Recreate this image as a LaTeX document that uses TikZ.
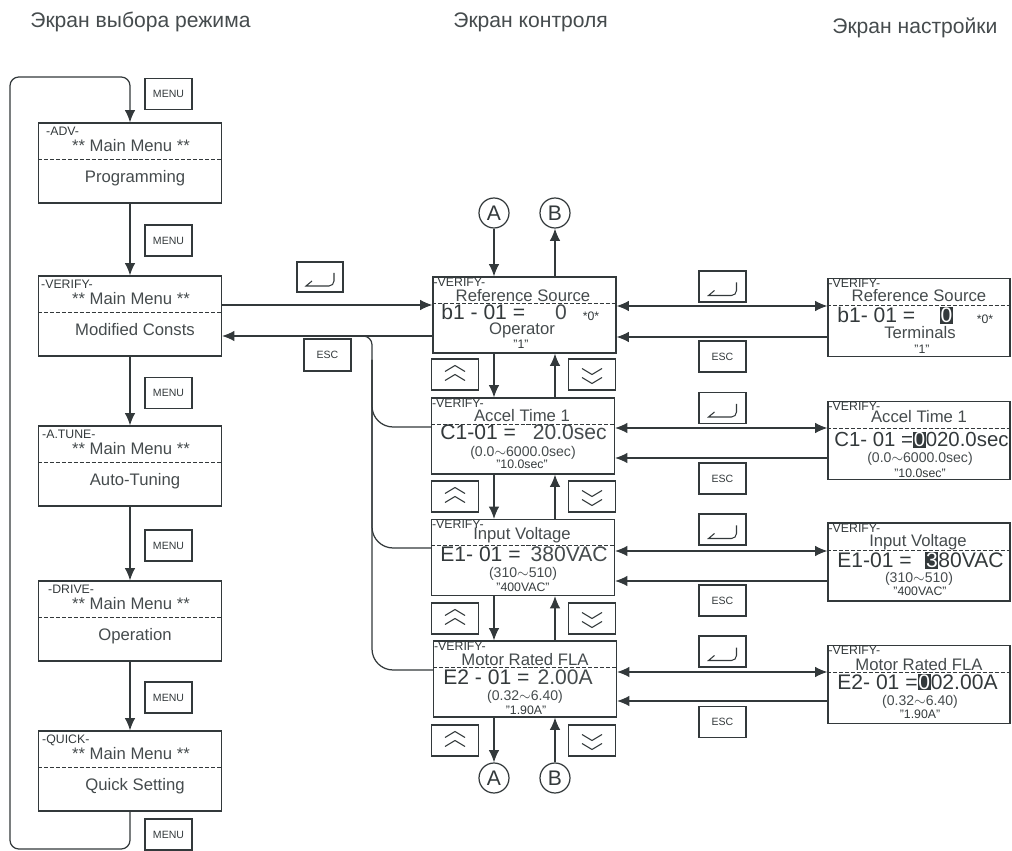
\documentclass[tikz,border=0pt]{standalone}
\usepackage{fontspec}
\setmainfont{Liberation Sans}
\usepackage{tikz}
\usetikzlibrary{arrows.meta,calc,positioning}
\definecolor{ink}{HTML}{33393B}
\definecolor{txt}{HTML}{454B4D}
\tikzset{>={Latex[length=7pt,width=6pt]}}
\tikzset{
  wire/.style={draw=ink, line width=0.7pt},
  flow/.style={wire, ->},
  screen/.style={wire, rectangle, minimum width=3.66cm, minimum height=1.52cm, inner sep=0pt},
  modebox/.style={screen, minimum height=1.6cm},
  setbox/.style={screen, minimum width=3.64cm, minimum height=1.56cm},
  key/.style={wire, minimum width=0.94cm, minimum height=0.62cm, inner sep=0pt,
    text=ink, font=\fontsize{6}{7}\selectfont},
  conn/.style={wire, circle, minimum size=0.6cm, inner sep=0pt, text=ink,
    font=\fontsize{12}{14}\selectfont},
  rule/.style={draw=ink, line width=0.5pt, dash pattern=on 2.3pt off 1.1pt},
  keysym/.style={draw=ink, line width=0.6pt},
  hdr/.style={anchor=mid west, inner sep=0pt, text=txt, font=\fontsize{12}{14}\selectfont},
  tag/.style={anchor=mid west, inner sep=0.5pt, text=ink, font=\fontsize{7}{8}\selectfont},
  ttl/.style={anchor=mid, inner sep=0pt, text=txt, font=\fontsize{9.5}{11}\selectfont},
  val/.style={anchor=mid west, inner sep=0pt, text=ink, font=\fontsize{12}{14}\selectfont},
  rng/.style={anchor=mid, inner sep=0pt, text=txt, font=\fontsize{8}{10}\selectfont},
  dflt/.style={anchor=mid, inner sep=0pt, text=ink, font=\fontsize{7}{8}\selectfont},
}
\newcommand{\hlch}[1]{{\setlength{\fboxsep}{0.4pt}\colorbox{ink}{\textcolor{white}{#1}}}}

\begin{document}
\begin{tikzpicture}[x=0.02cm, y=-0.02cm]
\useasboundingbox (0,0) rectangle (1012,851);

% column headers
\node[hdr] (hsel) at (30,23) {Экран выбора режима};
\node[hdr] (hmon) at (453,23) {Экран контроля};
\node[hdr] (hset) at (832,29) {Экран настройки};

% mode selection screens
\foreach \s/\y/\m/\mx/\txt in {sel1/163/-ADV-/45/Programming,
    sel2/316/-VERIFY-/40/Modified Consts, sel3/466/-A.TUNE-/41/Auto-Tuning,
    sel4/621/-DRIVE-/47/Operation, sel5/771/-QUICK-/41/Quick Setting}{
  \node[modebox] (\s) at (130,\y) {};
  \draw[rule] ($(\s.west)+(0,-4)$) -- ($(\s.east)+(0,-4)$);
  \node[tag] (\s-tag) at (\mx,\y-32) {\m};
  \node[ttl] (\s-ttl) at (131,\y-16) {** Main Menu **};
  \node[ttl] (\s-sub) at (135,\y+15) {\txt};
}
\foreach \y [count=\i] in {94,240.5,393,545.5,697.5,834.5}
  \node[key] (menu\i) at (168.5,\y) {MENU};
\foreach \a/\b in {sel1/sel2,sel2/sel3,sel3/sel4,sel4/sel5}
  \draw[flow] (\a.south) -- (\b.north);
\draw[flow, rounded corners=5pt] (sel5.south) |- (10,849) -- (10,77) -| (sel1.north);

% monitor screens
\node[screen] (m1) at (524.5,315) {};
\node[screen] (m2) at (523,436) {};
\node[screen] (m3) at (523,557.5) {};
\node[screen] (m4) at (525,679) {};
\foreach \b in {m1,m2,m3,m4}{
  \draw[rule] ($(\b.west)+(0,-12)$) -- ($(\b.east)+(0,-12)$);
  \node[tag] (\b-tag) at ($(\b.north west)+(0,5)$) {-VERIFY-};
}
\node[ttl] (m1-ttl) at (523,297) {Reference Source};
\node[val] (m1-par) at (441,315) {b1 - 01 =};
\node[val, anchor=mid, text=txt] (m1-num) at (561,315) {0};
\node[dflt] (m1-fac) at (591,316) {*0*};
\node[ttl] (m1-sub) at (522,330) {Operator};
\node[dflt] (m1-def) at (521,344) {"1"};

\node[ttl] (m2-ttl) at (522,417) {Accel Time 1};
\node[val] (m2-par) at (440,435) {C1-01 =};
\node[val, anchor=mid east, text=txt] (m2-num) at (607,435) {20.0sec};
\node[rng] (m2-rng) at (523,452) {(0.0$\sim$6000.0sec)};
\node[dflt] (m2-def) at (522,464) {"10.0sec"};

\node[ttl] (m3-ttl) at (522,535) {Input Voltage};
\node[val] (m3-par) at (440,557) {E1- 01 =};
\node[val, anchor=mid east, text=txt] (m3-num) at (608,557) {380VAC};
\node[rng] (m3-rng) at (523,573) {(310$\sim$510)};
\node[dflt] (m3-def) at (523,587) {"400VAC"};

\node[ttl] (m4-ttl) at (525,661) {Motor Rated FLA};
\node[val] (m4-par) at (443,680) {E2 - 01 =};
\node[val, anchor=mid east, text=txt] (m4-num) at (593,680) {2.00A};
\node[rng] (m4-rng) at (525,696) {(0.32$\sim$6.40)};
\node[dflt] (m4-def) at (526,709.5) {"1.90A"};

% setting screens
\node[setbox] (r1) at (919,317.5) {};
\node[setbox] (r2) at (919,440.5) {};
\node[setbox] (r3) at (919,562) {};
\node[setbox] (r4) at (919,684.5) {};
\foreach \b in {r1,r2,r3,r4}{
  \draw[rule] ($(\b.west)+(0,-12)$) -- ($(\b.east)+(0,-12)$);
  \node[tag] (\b-tag) at ($(\b.north west)+(0,5)$) {-VERIFY-};
}
\node[ttl] (r1-ttl) at (919,296.5) {Reference Source};
\node[val] (r1-par) at (837,318) {b1- 01 =};
\node[val, anchor=mid] (r1-num) at (946.5,318) {\hlch{0}};
\node[dflt] (r1-fac) at (985,319) {*0*};
\node[ttl] (r1-sub) at (920,334) {Terminals};
\node[dflt] (r1-def) at (922,349) {"1"};

\node[ttl] (r2-ttl) at (919,418) {Accel Time 1};
\node[val, font=\fontsize{11.6}{14}\selectfont] (r2-par) at (834,442) {C1- 01 =\hlch{0}020.0sec};
\node[rng] (r2-rng) at (920,458) {(0.0$\sim$6000.0sec)};
\node[dflt] (r2-def) at (920,473) {"10.0sec"};

\node[ttl] (r3-ttl) at (918,542) {Input Voltage};
\node[val] (r3-par) at (837,563) {E1-01 =};
\node[val] (r3-num) at (925,563) {\hlch{3}80VAC};
\node[rng] (r3-rng) at (919,578) {(310$\sim$510)};
\node[dflt] (r3-def) at (920,591) {"400VAC"};

\node[ttl] (r4-ttl) at (919,666) {Motor Rated FLA};
\node[val] (r4-par) at (837,684.5) {E2- 01 =\hlch{0}02.00A};
\node[rng] (r4-rng) at (920,701) {(0.32$\sim$6.40)};
\node[dflt] (r4-def) at (920,714) {"1.90A"};

% connectors A / B
\node[conn] (topA) at (494,213) {A};
\node[conn] (topB) at (555,213) {B};
\node[conn] (botA) at (494,778) {A};
\node[conn] (botB) at (555,778) {B};
\draw[flow] (topA) -- (topA |- m1.north);
\draw[flow] (m1.north -| topB) -- (topB);
\foreach \a/\b in {m1/m2,m2/m3,m3/m4}{
  \draw[flow] (\a.south -| topA) -- (\b.north -| topA);
  \draw[flow] (\b.north -| topB) -- (\a.south -| topB);
}
\draw[flow] (m4.south -| botA) -- (botA);
\draw[flow] (botB) -- (m4.south -| botB);

% up / down keys
\foreach \y [count=\i] in {374.5,496.5,618.5,740.5}{
  \node[key] (up\i) at (455,\y) {};
  \node[key] (dn\i) at (592,\y) {};
  \draw[keysym] ($(up\i)+(-10,-3)$) -- ++(10,-6) -- ++(10,6)
                ($(up\i)+(-10,6)$) -- ++(10,-6) -- ++(10,6);
  \draw[keysym] ($(dn\i)+(-10,-6)$) -- ++(10,6) -- ++(10,-6)
                ($(dn\i)+(-10,3)$) -- ++(10,6) -- ++(10,-6);
}

% enter / esc keys
\node[key, minimum width=0.92cm, minimum height=0.6cm] (ent0) at (320,277) {};
\node[key, minimum height=0.64cm] (esc0) at (327.5,355) {ESC};
\foreach \y [count=\i] in {286.5,408,529.5,651.5}
  \node[key] (ent\i) at (722.5,\y) {};
\foreach \y [count=\i] in {356.5,478.5,600.5,722}
  \node[key] (esc\i) at (722.5,\y) {ESC};
\foreach \k in {ent0,ent1,ent2,ent3,ent4}
  \draw[keysym] ($(\k)+(-8,4)$) -- ($(\k)+(-14,9)$) -- ($(\k)+(9,9)$)
    to[out=0,in=-90] ($(\k)+(14,4)$) -- ($(\k)+(14,-4)$);

% mode selection <-> monitor
\draw[flow] (sel2.east |- 0,305) -- (m1.west |- 0,305);
\draw[flow] (m1.west |- 0,336) -- (sel2.east |- 0,336);
\coordinate (bustop) at (372,360);
\coordinate (busjoin) at (340,336);
\foreach \i/\y in {2/427,3/548,4/670}
  \draw[wire, rounded corners=12pt] (m\i.west |- 0,\y) -| (bustop);
\draw[wire, rounded corners=5pt] (bustop) |- (busjoin);

% monitor <-> setting
\foreach \i/\yt/\yb in {1/306/337,2/428/458,3/551/581,4/672/701}{
  \draw[wire, <->] (m\i.east |- 0,\yt) -- (r\i.west |- 0,\yt);
  \draw[flow] (r\i.west |- 0,\yb) -- (m\i.east |- 0,\yb);
}
\end{tikzpicture}
\end{document}
